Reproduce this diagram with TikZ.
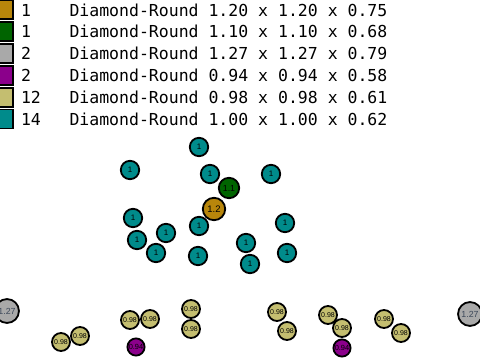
\documentclass[tikz,border=0pt]{standalone}
\usepackage{fontspec}
\setmainfont{Liberation Sans}
\newfontfamily\legfont{DejaVu Sans Mono}
\definecolor{cOrange}{RGB}{184,134,11}
\definecolor{cGreen}{RGB}{0,100,0}
\definecolor{cGray}{RGB}{169,169,169}
\definecolor{cPurple}{RGB}{139,0,139}
\definecolor{cKhaki}{RGB}{196,190,112}
\definecolor{cTeal}{RGB}{0,139,139}
\definecolor{cLabel}{RGB}{60,72,90}
\tikzset{
  ball/.style={circle, draw=black, line width=1.8pt, inner sep=0pt, outer sep=0pt},
  tealball/.style={ball, fill=cTeal, minimum size=18.4pt, font=\fontsize{8}{8}\selectfont},
  greenball/.style={ball, fill=cGreen, minimum size=20.4pt, font=\fontsize{8.8}{8.8}\selectfont},
  orangeball/.style={ball, fill=cOrange, minimum size=22.4pt, font=\fontsize{9.5}{9.5}\selectfont},
  grayball/.style={ball, fill=cGray, minimum size=23.9pt, text=cLabel, font=\fontsize{8.8}{8.8}\selectfont},
  khakiball/.style={ball, fill=cKhaki, minimum size=18pt, font=\fontsize{7}{7}\selectfont},
  purpleball/.style={ball, fill=cPurple, minimum size=17.2pt, font=\fontsize{7.4}{7.4}\selectfont},
  swatch/.style={draw=black, line width=1.8pt, minimum width=20pt, minimum height=19pt, inner sep=0pt, outer sep=0pt},
  legtext/.style={anchor=base west, inner sep=0pt, outer sep=0pt, font=\legfont\fontsize{16.5}{16.5}\selectfont}
}
\begin{document}
\begin{tikzpicture}[x=1pt, y=-1pt]
\useasboundingbox (0,0) rectangle (480,360);
% legend
\foreach \i/\c/\n/\t in {0/cOrange/1/{Diamond-Round 1.20 x 1.20 x 0.75},
                          1/cGreen/1/{Diamond-Round 1.10 x 1.10 x 0.68},
                          2/cGray/2/{Diamond-Round 1.27 x 1.27 x 0.79},
                          3/cPurple/2/{Diamond-Round 0.94 x 0.94 x 0.58},
                          4/cKhaki/12/{Diamond-Round 0.98 x 0.98 x 0.61},
                          5/cTeal/14/{Diamond-Round 1.00 x 1.00 x 0.62}}{
  \node[swatch, fill=\c] (sw\i) at (3, 9.5+21.9*\i) {};
  \node[legtext] (cnt\i) at (21, 16+21.9*\i) {\n};
  \node[legtext] (lt\i) at (69.5, 16+21.9*\i) {\t};
}
% teal balls
\foreach \x/\y [count=\k] in {199/147, 130/170, 210/174, 271/174, 133/218, 137/240, 166/233,
                              156/253, 199/226, 198/256, 285/223, 246/243, 250/264, 287/253}{
  \node[tealball] (t\k) at (\x,\y) {1};
}
\node[greenball] (g1) at (229,188) {1.1};
\node[orangeball] (o1) at (214,209) {1.2};
% bottom row
\node[grayball] (gr1) at (7,311) {1.27};
\node[grayball] (gr2) at (470,314) {1.27};
\foreach \x/\y [count=\k] in {61/342, 80/336, 130/320, 150/319, 191/309, 191/329,
                              277/312, 287/331, 328/315, 342/328, 384/319, 401/333}{
  \node[khakiball] (k\k) at (\x,\y) {0.98};
}
\node[purpleball] (p1) at (136,347) {0.94};
\node[purpleball] (p2) at (342,348) {0.94};
\end{tikzpicture}
\end{document}
